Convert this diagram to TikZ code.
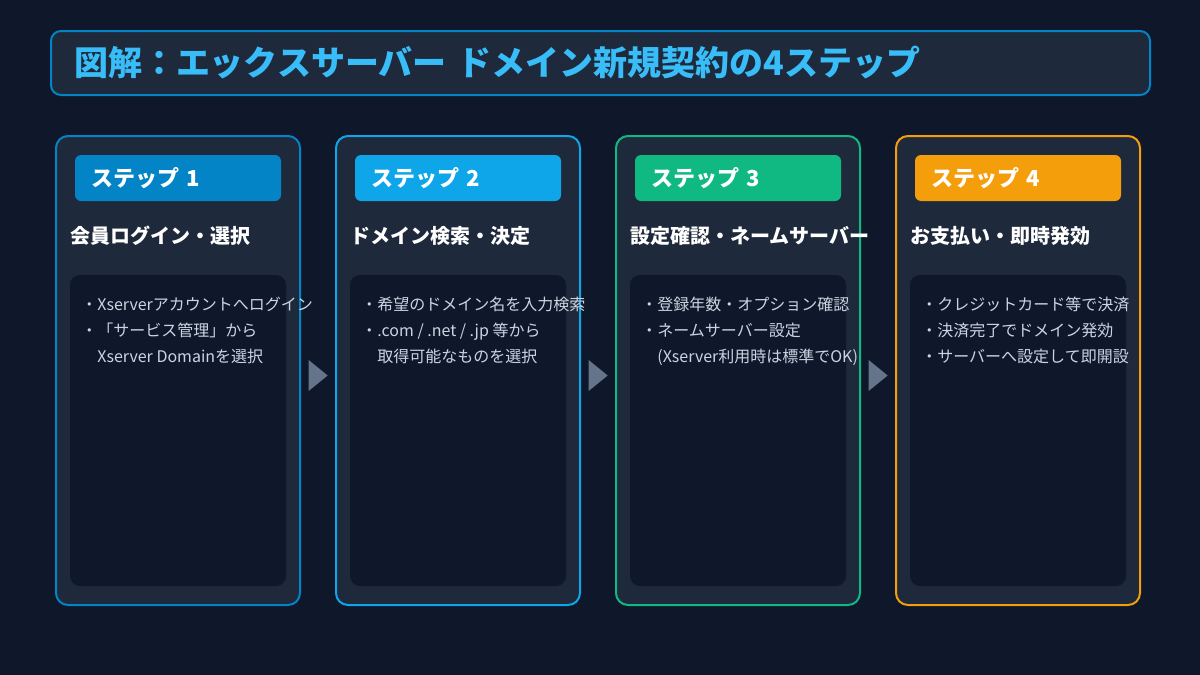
\documentclass[tikz,border=0pt]{standalone}
\usepackage{fontspec}
\setmainfont{Noto Sans CJK JP}
\usetikzlibrary{shapes.geometric}
\definecolor{bgnavy}{HTML}{0F172A}
\definecolor{panel}{HTML}{1E293B}
\definecolor{stepA}{HTML}{0284C7}
\definecolor{stepB}{HTML}{0EA5E9}
\definecolor{stepC}{HTML}{10B981}
\definecolor{stepD}{HTML}{F59E0B}
\definecolor{titletext}{HTML}{38BDF8}
\definecolor{bodytext}{HTML}{CBD5E1}
\definecolor{arrowgray}{HTML}{64748B}

\begin{document}
\begin{tikzpicture}[x=0.5pt,y=-0.5pt,
  titlebox/.style={draw=stepA, line width=1pt, fill=panel, rounded corners=5pt, minimum width=549.5pt, minimum height=32pt, text width=526.5pt, inner xsep=11.5pt, align=left, text=titletext, font=\bfseries\fontsize{17}{20}\selectfont},
  card/.style={line width=1pt, fill=panel, rounded corners=6pt, minimum width=122pt, minimum height=234.5pt, inner sep=0pt},
  badge/.style={rounded corners=3pt, minimum height=23pt, text width=87pt, inner xsep=8pt, align=left, text=white, font=\bfseries\fontsize{11}{13}\selectfont},
  heading/.style={anchor=west, inner sep=0pt, text=white, font=\bfseries\fontsize{10}{12}\selectfont},
  innerbox/.style={fill=bgnavy, rounded corners=5pt, minimum width=108pt, minimum height=155.5pt, inner sep=0pt},
  list/.style={anchor=north west, inner sep=0pt, align=left, text=bodytext, font=\fontsize{8}{13}\selectfont},
  pointer/.style={isosceles triangle, isosceles triangle stretches, fill=arrowgray, inner sep=0pt, minimum width=15.5pt, minimum height=9.5pt}]
\fill[bgnavy] (0,0) rectangle (1200,675);
\node[titlebox] (title) at (600.5,63) {図解：エックスサーバー ドメイン新規契約の4ステップ};
\node[card, draw=stepA] (card1) at (178,370.5) {};
\node[card, draw=stepB] (card2) at (458,370.5) {};
\node[card, draw=stepC] (card3) at (738,370.5) {};
\node[card, draw=stepD] (card4) at (1018,370.5) {};
\node[badge, fill=stepA] (badge1) at (178,178) {ステップ 1};
\node[badge, fill=stepB] (badge2) at (458,178) {ステップ 2};
\node[badge, fill=stepC] (badge3) at (738,178) {ステップ 3};
\node[badge, fill=stepD] (badge4) at (1018,178) {ステップ 4};
\node[heading] (head1) at (70,236) {会員ログイン・選択};
\node[heading] (head2) at (350,236) {ドメイン検索・決定};
\node[heading] (head3) at (630,236) {設定確認・ネームサーバー};
\node[heading] (head4) at (910,236) {お支払い・即時発効};
\node[innerbox] (box1) at (178,430.5) {};
\node[innerbox] (box2) at (458,430.5) {};
\node[innerbox] (box3) at (738,430.5) {};
\node[innerbox] (box4) at (1018,430.5) {};
\node[list] (list1) at (81,297) {・Xserverアカウントへログイン\\・「サービス管理」から\\\phantom{・}Xserver Domainを選択};
\node[list] (list2) at (361,297) {・希望のドメイン名を入力検索\\・.com / .net / .jp 等から\\\phantom{・}取得可能なものを選択};
\node[list] (list3) at (641,297) {・登録年数・オプション確認\\・ネームサーバー設定\\\phantom{・}(Xserver利用時は標準でOK)};
\node[list] (list4) at (921,297) {・クレジットカード等で決済\\・決済完了でドメイン発効\\・サーバーへ設定して即開設};
\node[pointer] (next1) at (316,375.5) {};
\node[pointer] (next2) at (596,375.5) {};
\node[pointer] (next3) at (876,375.5) {};
\end{tikzpicture}
\end{document}
